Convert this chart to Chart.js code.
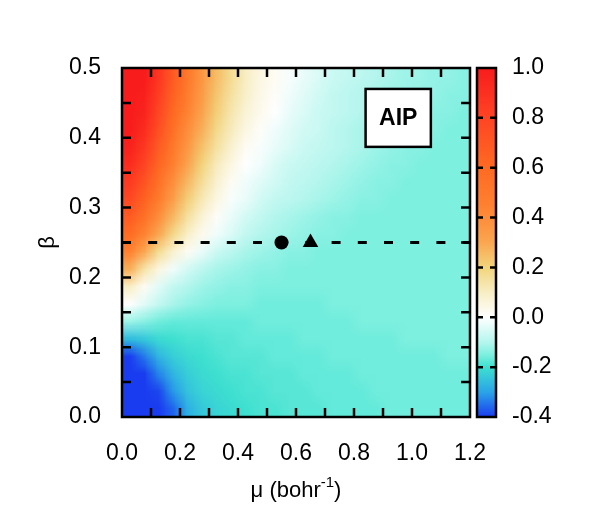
<!DOCTYPE html>
<html>
<head>
<meta charset="utf-8">
<script src="https://cdn.jsdelivr.net/npm/chart.js@4.4.1/dist/chart.umd.min.js"></script>
<style>
  html, body { margin: 0; padding: 0; background: #fff; }
  #wrap { width: 598px; height: 517px; position: relative; }
</style>
</head>
<body>
<div id="wrap"><canvas id="c"></canvas></div>
<script>
// cell edges of the AIP map
var muEdges = [0, 0.05, 0.1, 0.15, 0.2, 0.25, 0.3, 0.35, 0.4, 0.45, 0.5, 0.55, 0.6,
               0.65, 0.7, 0.75, 0.8, 0.85, 0.9, 0.95, 1.0, 1.05, 1.1, 1.15, 1.2];
var betaEdges = [0, 0.025, 0.05, 0.075, 0.1, 0.125, 0.15, 0.175, 0.2, 0.225, 0.25,
                 0.275, 0.3, 0.325, 0.35, 0.375, 0.4, 0.425, 0.45, 0.475, 0.5];

// AIP values, one row per beta cell (bottom row first), one value per mu cell
var aipRows = [
  [-0.44,-0.44,-0.42,-0.36,-0.28,-0.24,-0.22,-0.21,-0.20,-0.19,-0.19,-0.18,-0.18,-0.18,-0.17,-0.17,-0.17,-0.17,-0.16,-0.16,-0.16,-0.16,-0.16,-0.16],
  [-0.44,-0.43,-0.39,-0.31,-0.25,-0.22,-0.21,-0.20,-0.19,-0.19,-0.18,-0.18,-0.18,-0.17,-0.17,-0.17,-0.17,-0.16,-0.16,-0.16,-0.16,-0.16,-0.16,-0.16],
  [-0.43,-0.40,-0.33,-0.27,-0.23,-0.21,-0.20,-0.19,-0.19,-0.18,-0.18,-0.18,-0.17,-0.17,-0.17,-0.17,-0.16,-0.16,-0.16,-0.16,-0.16,-0.16,-0.16,-0.16],
  [-0.40,-0.34,-0.27,-0.23,-0.21,-0.20,-0.19,-0.18,-0.18,-0.18,-0.17,-0.17,-0.17,-0.17,-0.16,-0.16,-0.16,-0.16,-0.16,-0.16,-0.16,-0.16,-0.15,-0.15],
  [-0.26,-0.24,-0.21,-0.20,-0.19,-0.19,-0.18,-0.18,-0.17,-0.17,-0.17,-0.17,-0.16,-0.16,-0.16,-0.16,-0.16,-0.16,-0.16,-0.15,-0.15,-0.15,-0.15,-0.15],
  [-0.12,-0.14,-0.16,-0.17,-0.17,-0.17,-0.17,-0.17,-0.17,-0.16,-0.16,-0.16,-0.16,-0.16,-0.16,-0.16,-0.15,-0.15,-0.15,-0.15,-0.15,-0.15,-0.15,-0.15],
  [ 0.00,-0.04,-0.08,-0.11,-0.13,-0.14,-0.15,-0.15,-0.15,-0.16,-0.16,-0.16,-0.16,-0.16,-0.15,-0.15,-0.15,-0.15,-0.15,-0.15,-0.15,-0.15,-0.15,-0.15],
  [ 0.10, 0.02,-0.04,-0.08,-0.10,-0.12,-0.13,-0.14,-0.14,-0.15,-0.15,-0.15,-0.15,-0.15,-0.15,-0.15,-0.15,-0.15,-0.15,-0.15,-0.15,-0.15,-0.15,-0.15],
  [ 0.28, 0.14, 0.05,-0.02,-0.06,-0.09,-0.11,-0.12,-0.13,-0.14,-0.14,-0.15,-0.15,-0.15,-0.15,-0.15,-0.15,-0.15,-0.15,-0.15,-0.15,-0.15,-0.15,-0.15],
  [ 0.45, 0.30, 0.17, 0.08, 0.02,-0.03,-0.07,-0.09,-0.11,-0.12,-0.13,-0.14,-0.14,-0.15,-0.15,-0.15,-0.15,-0.15,-0.15,-0.15,-0.15,-0.15,-0.15,-0.15],
  [ 0.58, 0.44, 0.30, 0.18, 0.09, 0.03,-0.02,-0.05,-0.08,-0.10,-0.11,-0.12,-0.13,-0.14,-0.14,-0.15,-0.15,-0.15,-0.15,-0.15,-0.15,-0.15,-0.15,-0.15],
  [ 0.68, 0.55, 0.40, 0.26, 0.15, 0.07, 0.01,-0.03,-0.06,-0.08,-0.10,-0.11,-0.12,-0.13,-0.14,-0.14,-0.15,-0.15,-0.15,-0.15,-0.15,-0.15,-0.15,-0.15],
  [ 0.78, 0.64, 0.48, 0.33, 0.21, 0.12, 0.05,-0.01,-0.03,-0.06,-0.08,-0.09,-0.10,-0.11,-0.12,-0.13,-0.14,-0.14,-0.15,-0.15,-0.15,-0.15,-0.15,-0.15],
  [ 0.85, 0.72, 0.55, 0.39, 0.26, 0.16, 0.08, 0.02,-0.02,-0.04,-0.06,-0.08,-0.09,-0.10,-0.11,-0.12,-0.13,-0.14,-0.14,-0.15,-0.15,-0.15,-0.15,-0.15],
  [ 0.92, 0.80, 0.62, 0.45, 0.31, 0.20, 0.11, 0.05, 0.00,-0.02,-0.05,-0.07,-0.08,-0.09,-0.10,-0.11,-0.12,-0.13,-0.14,-0.14,-0.15,-0.15,-0.15,-0.15],
  [ 0.97, 0.86, 0.68, 0.50, 0.36, 0.24, 0.15, 0.08, 0.02,-0.01,-0.03,-0.05,-0.07,-0.08,-0.09,-0.10,-0.11,-0.12,-0.13,-0.14,-0.14,-0.15,-0.15,-0.15],
  [ 1.00, 0.92, 0.74, 0.55, 0.40, 0.28, 0.18, 0.11, 0.05, 0.01,-0.02,-0.04,-0.06,-0.07,-0.09,-0.10,-0.11,-0.12,-0.13,-0.13,-0.14,-0.14,-0.15,-0.15],
  [ 1.00, 0.96, 0.79, 0.60, 0.44, 0.31, 0.21, 0.13, 0.07, 0.03, 0.00,-0.03,-0.05,-0.07,-0.08,-0.09,-0.10,-0.11,-0.12,-0.13,-0.13,-0.14,-0.14,-0.15],
  [ 1.00, 0.98, 0.83, 0.64, 0.47, 0.34, 0.23, 0.15, 0.09, 0.04, 0.01,-0.02,-0.04,-0.06,-0.08,-0.09,-0.10,-0.11,-0.12,-0.12,-0.13,-0.13,-0.14,-0.14],
  [ 1.00, 1.00, 0.87, 0.68, 0.50, 0.36, 0.25, 0.17, 0.10, 0.05, 0.02,-0.01,-0.03,-0.05,-0.07,-0.08,-0.09,-0.10,-0.11,-0.12,-0.12,-0.13,-0.13,-0.14]
];

// colour scale
var cmapValues = [-0.4, -0.3, -0.2, -0.15, -0.1, 0.0, 0.1, 0.2, 0.3, 0.45, 0.6, 0.8, 1.0];
var cmapColors = ['#1a3cf0', '#2aa4e8', '#3ee0d0', '#7ef0e0', '#b4f6ee', '#ffffff',
                  '#f8eec4', '#f2d47c', '#faa650', '#ff8030', '#ff6a22', '#ff4424', '#f81c1c'];

// tick marks
var muTickMarks = [0.1, 0.2, 0.3, 0.4, 0.5, 0.6, 0.7, 0.8, 0.9, 1.0, 1.1];
var betaTickMarks = [0.05, 0.1, 0.15, 0.2, 0.25, 0.3, 0.35, 0.4, 0.45];
var cbTickMarks = [-0.2, 0.0, 0.2, 0.4, 0.6, 0.8];

// overlay: dashed cut, the two markers and the label box
var cutBeta = 0.25;
var cutMu = [0, 1.2];
var circleMu = [0.55];
var triangleMu = [0.65];
var labelText = 'AIP';
var labelBoxMu = [0.84, 1.065];
var labelBoxBeta = [0.387, 0.47];

var FONT = '"Liberation Sans", Arial, Helvetica, sans-serif';

function hexToRgb(h) {
    return [parseInt(h.substr(1, 2), 16), parseInt(h.substr(3, 2), 16), parseInt(h.substr(5, 2), 16)];
}
var cmapRgb = cmapColors.map(hexToRgb);

function colorFor(v) {
    var n = cmapValues.length;
    if (v <= cmapValues[0]) return cmapColors[0];
    if (v >= cmapValues[n - 1]) return cmapColors[n - 1];
    for (var k = 0; k < n - 1; k++) {
        if (v <= cmapValues[k + 1]) {
            var t = (v - cmapValues[k]) / (cmapValues[k + 1] - cmapValues[k]);
            var a = cmapRgb[k], b = cmapRgb[k + 1];
            return 'rgb(' + Math.round(a[0] + (b[0] - a[0]) * t) + ',' +
                Math.round(a[1] + (b[1] - a[1]) * t) + ',' +
                Math.round(a[2] + (b[2] - a[2]) * t) + ')';
        }
    }
    return cmapColors[n - 1];
}

function fmt(v) {
    if (Math.abs(v) < 1e-9) v = 0;
    return v.toFixed(1);
}

// map: one texel per cell, stretched over the cell edges with smooth shading
var heatPlugin = {
    id: 'heat',
    beforeDatasetsDraw: function(chart) {
        var ctx = chart.ctx, xs = chart.scales.x, ys = chart.scales.y;
        var nx = aipRows[0].length, ny = aipRows.length;
        var off = document.createElement('canvas');
        off.width = nx;
        off.height = ny;
        var octx = off.getContext('2d');
        for (var j = 0; j < ny; j++) {
            for (var i = 0; i < nx; i++) {
                octx.fillStyle = colorFor(aipRows[j][i]);
                octx.fillRect(i, ny - 1 - j, 1, 1);
            }
        }
        var x0 = xs.getPixelForValue(muEdges[0]), x1 = xs.getPixelForValue(muEdges[nx]);
        var y0 = ys.getPixelForValue(betaEdges[ny]), y1 = ys.getPixelForValue(betaEdges[0]);
        ctx.save();
        ctx.imageSmoothingEnabled = true;
        ctx.imageSmoothingQuality = 'low';
        ctx.drawImage(off, x0, y0, x1 - x0, y1 - y0);
        ctx.restore();
    }
};

var framePlugin = {
    id: 'frame',
    afterDraw: function(chart) {
        var ctx = chart.ctx, xs = chart.scales.x, ys = chart.scales.y, cb = chart.scales.cb;
        var a = chart.chartArea;
        var tl = 9;
        ctx.save();
        ctx.strokeStyle = '#000';
        ctx.lineWidth = 2.5;

        // inward ticks on all four sides
        ctx.beginPath();
        muTickMarks.forEach(function(m) {
            var px = xs.getPixelForValue(m);
            ctx.moveTo(px, a.bottom); ctx.lineTo(px, a.bottom - tl);
            ctx.moveTo(px, a.top); ctx.lineTo(px, a.top + tl);
        });
        betaTickMarks.forEach(function(b) {
            var py = ys.getPixelForValue(b);
            ctx.moveTo(a.left, py); ctx.lineTo(a.left + tl, py);
            ctx.moveTo(a.right, py); ctx.lineTo(a.right - tl, py);
        });
        ctx.stroke();
        ctx.strokeRect(a.left, a.top, a.right - a.left, a.bottom - a.top);

        // label box
        var bx0 = xs.getPixelForValue(labelBoxMu[0]), bx1 = xs.getPixelForValue(labelBoxMu[1]);
        var by0 = ys.getPixelForValue(labelBoxBeta[1]), by1 = ys.getPixelForValue(labelBoxBeta[0]);
        ctx.fillStyle = '#fff';
        ctx.fillRect(bx0, by0, bx1 - bx0, by1 - by0);
        ctx.strokeRect(bx0, by0, bx1 - bx0, by1 - by0);
        ctx.fillStyle = '#000';
        ctx.font = 'bold 23px ' + FONT;
        ctx.textAlign = 'center';
        ctx.textBaseline = 'middle';
        ctx.fillText(labelText, (bx0 + bx1) / 2, (by0 + by1) / 2 + 1);

        // x axis title with a real superscript
        var tx = (a.left + a.right) / 2, ty = 491;
        ctx.textBaseline = 'middle';
        ctx.textAlign = 'left';
        var parts = [['μ (bohr', 22, 0], ['-1', 15, -8], [')', 22, 0]];
        var total = 0;
        parts.forEach(function(p) { ctx.font = p[1] + 'px ' + FONT; total += ctx.measureText(p[0]).width; });
        var cx = tx - total / 2;
        parts.forEach(function(p) {
            ctx.font = p[1] + 'px ' + FONT;
            ctx.fillText(p[0], cx, ty + p[2]);
            cx += ctx.measureText(p[0]).width;
        });

        // colour bar
        var cx0 = a.right + 7, cx1 = a.right + 26;
        var gTop = cb.getPixelForValue(cb.max), gBot = cb.getPixelForValue(cb.min);
        var grad = ctx.createLinearGradient(0, gBot, 0, gTop);
        cmapValues.forEach(function(v, k) {
            grad.addColorStop((v - cb.min) / (cb.max - cb.min), cmapColors[k]);
        });
        ctx.fillStyle = grad;
        ctx.fillRect(cx0, gTop, cx1 - cx0, gBot - gTop);
        ctx.beginPath();
        cbTickMarks.forEach(function(v) {
            var py = cb.getPixelForValue(v);
            ctx.moveTo(cx0, py); ctx.lineTo(cx0 + 6, py);
            ctx.moveTo(cx1, py); ctx.lineTo(cx1 - 6, py);
        });
        ctx.stroke();
        ctx.strokeRect(cx0, gTop, cx1 - cx0, gBot - gTop);
        ctx.restore();
    }
};

new Chart(document.getElementById('c'), {
    data: {
        datasets: [
            {
                type: 'scatter',
                data: circleMu.map(function(m) { return { x: m, y: cutBeta }; }),
                pointStyle: 'circle', pointRadius: 7,
                backgroundColor: '#000', borderColor: '#000', borderWidth: 0
            },
            {
                type: 'scatter',
                data: triangleMu.map(function(m) { return { x: m, y: cutBeta }; }),
                pointStyle: 'triangle', pointRadius: 9,
                backgroundColor: '#000', borderColor: '#000', borderWidth: 0
            },
            {
                type: 'line',
                data: cutMu.map(function(m) { return { x: m, y: cutBeta }; }),
                borderColor: '#000', borderWidth: 3, borderDash: [9, 17.2],
                pointRadius: 0, fill: false
            }
        ]
    },
    options: {
        responsive: true,
        maintainAspectRatio: false,
        animation: false,
        events: [],
        layout: { padding: { top: 68, left: 0, right: 0, bottom: 0 } },
        plugins: { legend: { display: false }, tooltip: { enabled: false } },
        scales: {
            x: {
                type: 'linear', position: 'bottom', min: 0, max: 1.2,
                grid: { display: false, drawTicks: false },
                border: { display: false },
                ticks: {
                    stepSize: 0.2, autoSkip: false, maxRotation: 0, padding: 23,
                    color: '#000', font: { family: FONT, size: 23 },
                    callback: function(v) { return fmt(v); }
                },
                title: { display: false },
                afterFit: function(s) { s.height = 100; }
            },
            y: {
                type: 'linear', position: 'left', min: 0, max: 0.5,
                grid: { display: false, drawTicks: false },
                border: { display: false },
                ticks: {
                    stepSize: 0.1, padding: 21,
                    color: '#000', font: { family: FONT, size: 23 },
                    callback: function(v) { return fmt(v); }
                },
                title: {
                    display: true, text: 'β', color: '#000',
                    font: { family: FONT, size: 22 }, padding: { top: 35, bottom: 0 }
                },
                afterFit: function(s) { s.width = 122; }
            },
            cb: {
                type: 'linear', position: 'right', min: -0.4, max: 1.0,
                grid: { display: false, drawTicks: false },
                border: { display: false },
                ticks: {
                    stepSize: 0.2, padding: 42,
                    color: '#000', font: { family: FONT, size: 23 },
                    callback: function(v) { return fmt(v); }
                },
                afterFit: function(s) { s.width = 128; }
            }
        }
    },
    plugins: [heatPlugin, framePlugin]
});
</script>
</body>
</html>
